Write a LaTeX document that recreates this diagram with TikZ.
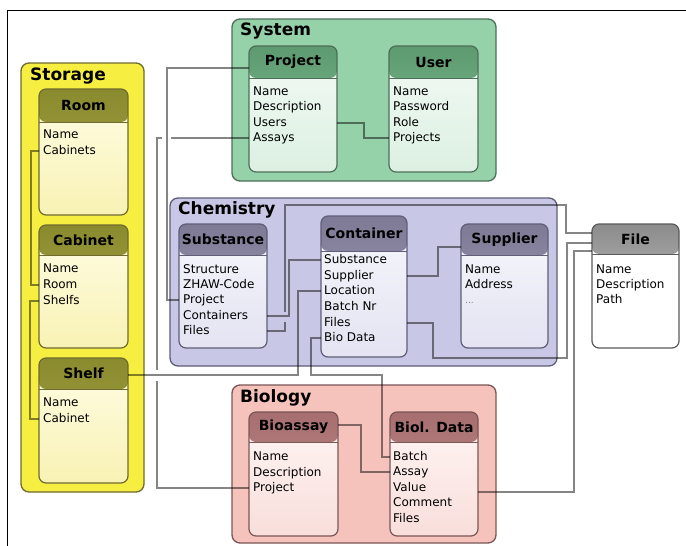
\documentclass[tikz,border=0pt]{standalone}
\usepackage{fontspec}
\setmainfont{DejaVu Sans}
\usetikzlibrary{calc}
\definecolor{storagefill}{HTML}{F6EF42}
\definecolor{storageline}{HTML}{6E6A30}
\definecolor{storagehdrtop}{HTML}{8A8A2E}
\definecolor{storagehdrbot}{HTML}{A8A84A}
\definecolor{storagebodytop}{HTML}{FFFDE6}
\definecolor{storagebodybot}{HTML}{F8F2B4}
\definecolor{systemfill}{HTML}{95D2AA}
\definecolor{systemline}{HTML}{4E6E58}
\definecolor{systemhdrtop}{HTML}{5E9A70}
\definecolor{systemhdrbot}{HTML}{80C294}
\definecolor{systembodytop}{HTML}{F3FAF5}
\definecolor{systembodybot}{HTML}{DCF0E2}
\definecolor{chemfill}{HTML}{C8C8E6}
\definecolor{chemline}{HTML}{5E5E78}
\definecolor{chemhdrtop}{HTML}{7E7A96}
\definecolor{chemhdrbot}{HTML}{A4A0BA}
\definecolor{chembodytop}{HTML}{F7F7FC}
\definecolor{chembodybot}{HTML}{E3E3F2}
\definecolor{biofill}{HTML}{F6C3BC}
\definecolor{bioline}{HTML}{7A5656}
\definecolor{biohdrtop}{HTML}{A66E6E}
\definecolor{biohdrbot}{HTML}{C99494}
\definecolor{biobodytop}{HTML}{FFF6F5}
\definecolor{biobodybot}{HTML}{F8DEDB}
\definecolor{fileline}{HTML}{5A5A5A}
\definecolor{filehdrtop}{HTML}{8C8C8C}
\definecolor{filehdrbot}{HTML}{D2D2D2}
\definecolor{filebodytop}{HTML}{FFFFFF}
\definecolor{filebodybot}{HTML}{FFFFFF}
\newcommand{\umlclass}[8]{%
  \pgfmathsetmacro{\uw}{#4-#2}%
  \pgfmathsetmacro{\uh}{#5-#3}%
  \pgfmathsetmacro{\uhh}{#6/2}%
  \node[clsbox, draw=#7line, top color=#7bodytop, bottom color=#7bodybot,
    minimum width=\uw pt, minimum height=\uh pt,
    path picture={\shade[top color=#7hdrtop, bottom color=#7hdrbot]
        (path picture bounding box.north west) rectangle ([yshift=-#6pt]path picture bounding box.north east);
      \draw[draw=#7line, line width=1pt]
        ([yshift=-#6pt]path picture bounding box.north west) -- ([yshift=-#6pt]path picture bounding box.north east);}
    ] (#1) at (#2,#3) {};
  \node[clstitle] (#1-title) at ([yshift=-\uhh pt]#1.north) {#8};
}
\newcommand{\fld}[4]{\node[fldtext] (#1) at (#2,#3) {#4};}
\begin{document}
\begin{tikzpicture}[x=1pt,y=-1pt,
  grp/.style={rounded corners=8pt, line width=1.3pt, inner sep=0pt, outer sep=0pt, anchor=north west},
  grptitle/.style={anchor=west, inner sep=0pt, font=\bfseries\fontsize{17}{20}\selectfont},
  clsbox/.style={rounded corners=7pt, line width=1.2pt, inner sep=0pt, outer sep=0pt, anchor=north west},
  clstitle/.style={inner sep=0pt, font=\bfseries\fontsize{14}{16}\selectfont},
  fldtext/.style={anchor=west, inner sep=0pt, font=\fontsize{12}{14}\selectfont, text height=9pt, text depth=2.5pt},
  conn/.style={draw=black, draw opacity=0.48, line width=1.1pt}]
\useasboundingbox[fill=white] (0,0) rectangle (686,546);
% frame
\draw[black, line width=1pt] (686,10) -- (7,10) -- (7,546);

% groups
\node[grp, draw=storageline, fill=storagefill, minimum width=123pt, minimum height=429pt] (storage) at (21,63) {};
\node[grptitle] (storage-t) at (30,76) {Storage};
\node[grp, draw=systemline, fill=systemfill, minimum width=264pt, minimum height=162pt] (system) at (232,19) {};
\node[grptitle] (system-t) at (240,31) {System};
\node[grp, draw=chemline, fill=chemfill, minimum width=387pt, minimum height=168pt] (chem) at (170,198) {};
\node[grptitle] (chem-t) at (178,210) {Chemistry};
\node[grp, draw=bioline, fill=biofill, minimum width=264pt, minimum height=158pt] (bio) at (232,385) {};
\node[grptitle] (bio-t) at (240,398) {Biology};

% Storage classes
\umlclass{room}{39}{89}{128}{215}{33}{storage}{Room}
\fld{room-name}{43}{135}{Name}
\fld{room-cabinets}{43}{151}{Cabinets}
\umlclass{cab}{39}{225}{128}{348}{30}{storage}{Cabinet}
\fld{cab-name}{43}{269}{Name}
\fld{cab-room}{43}{285}{Room}
\fld{cab-shelfs}{43}{301}{Shelfs}
\umlclass{shelf}{39}{358}{128}{483}{31}{storage}{Shelf}
\fld{shelf-name}{43}{403}{Name}
\fld{shelf-cabinet}{43}{419}{Cabinet}

% System classes
\umlclass{proj}{249}{46}{337}{172}{32}{system}{Project}
\fld{proj-name}{253}{92}{Name}
\fld{proj-desc}{253}{107}{Description}
\fld{proj-users}{253}{123}{Users}
\fld{proj-assays}{253}{138}{Assays}
\umlclass{user}{389}{46}{478}{172}{32}{system}{User}
\fld{user-name}{393}{92}{Name}
\fld{user-pw}{393}{107}{Password}
\fld{user-role}{393}{123}{Role}
\fld{user-projects}{393}{138}{Projects}

% Chemistry classes
\umlclass{sub}{179}{224}{267}{348}{31}{chem}{Substance}
\fld{sub-structure}{183}{270}{Structure}
\fld{sub-zhaw}{183}{285}{ZHAW-Code}
\fld{sub-project}{183}{300}{Project}
\fld{sub-containers}{183}{316}{Containers}
\fld{sub-files}{183}{331}{Files}
\umlclass{cont}{321}{216}{407}{357}{35}{chem}{Container}
\fld{cont-substance}{324}{260}{Substance}
\fld{cont-supplier}{324}{276}{Supplier}
\fld{cont-location}{324}{291}{Location}
\fld{cont-batch}{324}{307}{Batch Nr}
\fld{cont-files}{324}{323}{Files}
\fld{cont-biodata}{324}{338}{Bio Data}
\umlclass{supp}{461}{224}{548}{348}{31}{chem}{Supplier}
\fld{supp-name}{465}{270}{Name}
\fld{supp-address}{465}{285}{Address}
\fld{supp-more}{465}{300}{\color{gray}\fontsize{9}{10}\selectfont ...}

% File class
\umlclass{file}{592}{224}{679}{348}{30}{file}{File}
\fld{file-name}{596}{270}{Name}
\fld{file-desc}{596}{285}{Description}
\fld{file-path}{596}{300}{Path}

% Biology classes
\umlclass{bassay}{249}{412}{338}{536}{30}{bio}{Bioassay}
\fld{bassay-name}{253}{457}{Name}
\fld{bassay-desc}{253}{473}{Description}
\fld{bassay-project}{253}{488}{Project}
\umlclass{bdata}{390}{412}{478}{536}{30}{bio}{Biol. Data}
\fld{bdata-batch}{393}{457}{Batch}
\fld{bdata-assay}{393}{472}{Assay}
\fld{bdata-value}{393}{488}{Value}
\fld{bdata-comment}{393}{503}{Comment}
\fld{bdata-files}{393}{519}{Files}

% connectors
\draw[conn] (room.west |- room-cabinets) -- ++(-8,0) |- (cab.west |- cab-room);
\draw[conn] (cab.west |- cab-shelfs) -- ++(-9,0) |- (shelf.west |- shelf-cabinet);
\draw[conn] (proj.west |- proj-assays) -- ++(-92,0) |- (bassay.west |- bassay-project);
% gaps at crossings
\fill[white] (162,134) rectangle (171,143);
\fill[white] (153,370) rectangle (161,381);
\draw[conn] ([yshift=-22pt]proj.north west) -- ++(-82,0) |- (sub.west |- sub-project);
\draw[conn] (proj.east |- proj-users) -- ++(27,0) |- (user.west |- user-projects);
\draw[conn] ([yshift=-17pt]shelf.north east) -| ([xshift=-23pt]cont.west |- cont-location) -- (cont.west |- cont-location);
\draw[conn] (cont.west |- cont-biodata) -- ++(-10,0) -- ++(0,37) -| ([xshift=-8pt]bdata.west |- bdata-batch) -- (bdata.west |- bdata-batch);
\draw[conn] (sub.east |- sub-files) -- ++(18,0) -- ++(0,-126) -| ([xshift=-26pt,yshift=-9pt]file.north west) -- ([yshift=-9pt]file.north west);
\fill[chemfill] (282,312) rectangle (288,322);
\draw[conn] (sub.east |- sub-containers) -- ++(22,0) |- (cont.west |- cont-substance);
\draw[conn] (cont.east |- cont-files) -- ++(26,0) -- ++(0,35) -| ([xshift=-25pt,yshift=-19pt]file.north west) -- ([yshift=-19pt]file.north west);
\draw[conn] (cont.east |- cont-supplier) -- ++(31,0) |- ([yshift=-23pt]supp.north west);
\draw[conn] ([yshift=-4pt]bdata.east |- bdata-value) -- ++(96,0) |- ([yshift=-27pt]file.north west);
\draw[conn] ([yshift=-13pt]bassay.north east) -- ++(23,0) |- (bdata.west |- bdata-assay);
\end{tikzpicture}
\end{document}
